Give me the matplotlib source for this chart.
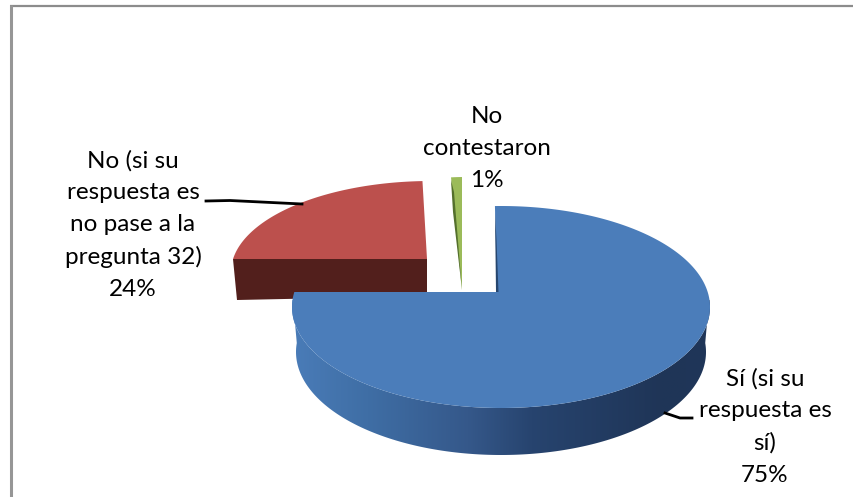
import numpy as np
import matplotlib
matplotlib.use('Agg')
import matplotlib.pyplot as plt
from matplotlib.patches import Polygon
from matplotlib.colors import LinearSegmentedColormap

# slices, clockwise from 12 o'clock
labels = ['Sí (si su\nrespuesta es\nsí)', 'No (si su\nrespuesta es\nno pase a la\npregunta 32)', 'No\ncontestaron']
values = [75, 24, 1]

plt.rcParams['font.family'] = ['Lato', 'DejaVu Sans']

fig = plt.figure(figsize=(8.54, 4.97), dpi=100)
ax = fig.add_axes([0, 0, 1, 1])
ax.axis('off')

# frame of the pasted picture, only top and left show
ax.plot([10, 854], [5.5, 5.5], color='#8c8c8c', lw=1.6, solid_capstyle='butt')
ax.plot([11, 11], [5, 497], color='#969696', lw=2.2, solid_capstyle='butt')


def rim(angles, apex, center, rx, ry, lean=0.0):
    # where rays from the apex hit the ellipse, angles in degrees clockwise from top
    a = np.radians(angles)
    dx = rx * np.sin(a) + lean * ry * np.cos(a)
    dy = -ry * np.cos(a)
    ox = (apex[0] - center[0]) / rx
    oy = (apex[1] - center[1]) / ry
    ux = dx / rx
    uy = dy / ry
    qa = ux**2 + uy**2
    qb = 2 * (ox * ux + oy * uy)
    qc = ox**2 + oy**2 - 1
    s = (-qb + np.sqrt(qb**2 - 4 * qa * qc)) / (2 * qa)
    return np.column_stack([apex[0] + s * dx, apex[1] + s * dy])


ends = np.cumsum(values) * 3.6
starts = ends - np.array(values) * 3.6

# red slice
r_apex = (427, 259)
r_rim = rim(np.linspace(starts[1], ends[1], 80), r_apex, (431, 272), 200, 91, lean=0.08)
ax.add_patch(Polygon([(233, 259), (427, 259), (427, 296), (237, 300)], fc='#521f1c', ec='none', zorder=2))
ax.add_patch(Polygon(np.vstack([r_apex, r_rim]), fc='#bc504d', ec='none', zorder=3))

# green slice
g_apex = (462, 290)
g_rim = rim(np.linspace(starts[2], ends[2], 10), g_apex, (465, 290), 175, 113)
ax.add_patch(Polygon(np.vstack([g_apex, g_rim]), fc='#9bbb59', ec='none', zorder=3))
ax.add_patch(Polygon([(451, 180), (454, 192), (462, 290), (453, 212)], fc='#54702c', ec='none', zorder=4))

# blue slice, side wall with a left to right gradient
b_apex = (497, 292)
b_center = (501, 307)
t = np.radians(np.linspace(85, 275, 200))
top_x = b_center[0] + 209 * np.sin(t)
top_y = b_center[1] - 101 * np.cos(t)
low_x = 501 + 205 * np.sin(t)
low_y = 352 - 103 * np.cos(t)
side_pts = np.vstack([np.column_stack([top_x, top_y]), np.column_stack([low_x, low_y])[::-1]])
side = Polygon(side_pts, fc='none', ec='none', zorder=5)
ax.add_patch(side)
stops = [(0.0, '#4a7cb8'), (0.18, '#3f6ea5'), (0.42, '#35588a'), (0.57, '#27446f'), (0.88, '#1f3557'), (1.0, '#1f3659')]
cmap = LinearSegmentedColormap.from_list('side', stops)
im = ax.imshow(np.linspace(0, 1, 256).reshape(1, -1), cmap=cmap, extent=(292, 712, 460, 300),
               aspect='auto', zorder=5, interpolation='bilinear')
im.set_clip_path(side)

b_rim = rim(np.linspace(starts[0], ends[0], 300), b_apex, b_center, 209, 101, lean=-0.024)
ax.add_patch(Polygon(np.vstack([b_apex, b_rim]), fc='#4b7dba', ec='none', zorder=6))
ax.add_patch(Polygon([(495, 212), (496, 292), (498.5, 292), (496.5, 240)], fc='#26466f', ec='none', zorder=7))

# leader lines
ax.plot([206, 230, 302], [201, 200.5, 204], color='black', lw=2, zorder=8)
ax.plot([692, 680, 665], [418, 418, 413], color='black', lw=2, zorder=8)

# data labels
label_pos = [(765, 427), (133, 225), (487, 148.5)]
for lab, val, pos in zip(labels, values, label_pos):
    ax.text(pos[0], pos[1], f'{lab}\n{val}%', ha='center', va='center', fontsize=17.5,
            color='black', linespacing=1.63, zorder=9)

ax.set_xlim(0, 854)
ax.set_ylim(497, 0)

fig.savefig('out.png', dpi=100)
